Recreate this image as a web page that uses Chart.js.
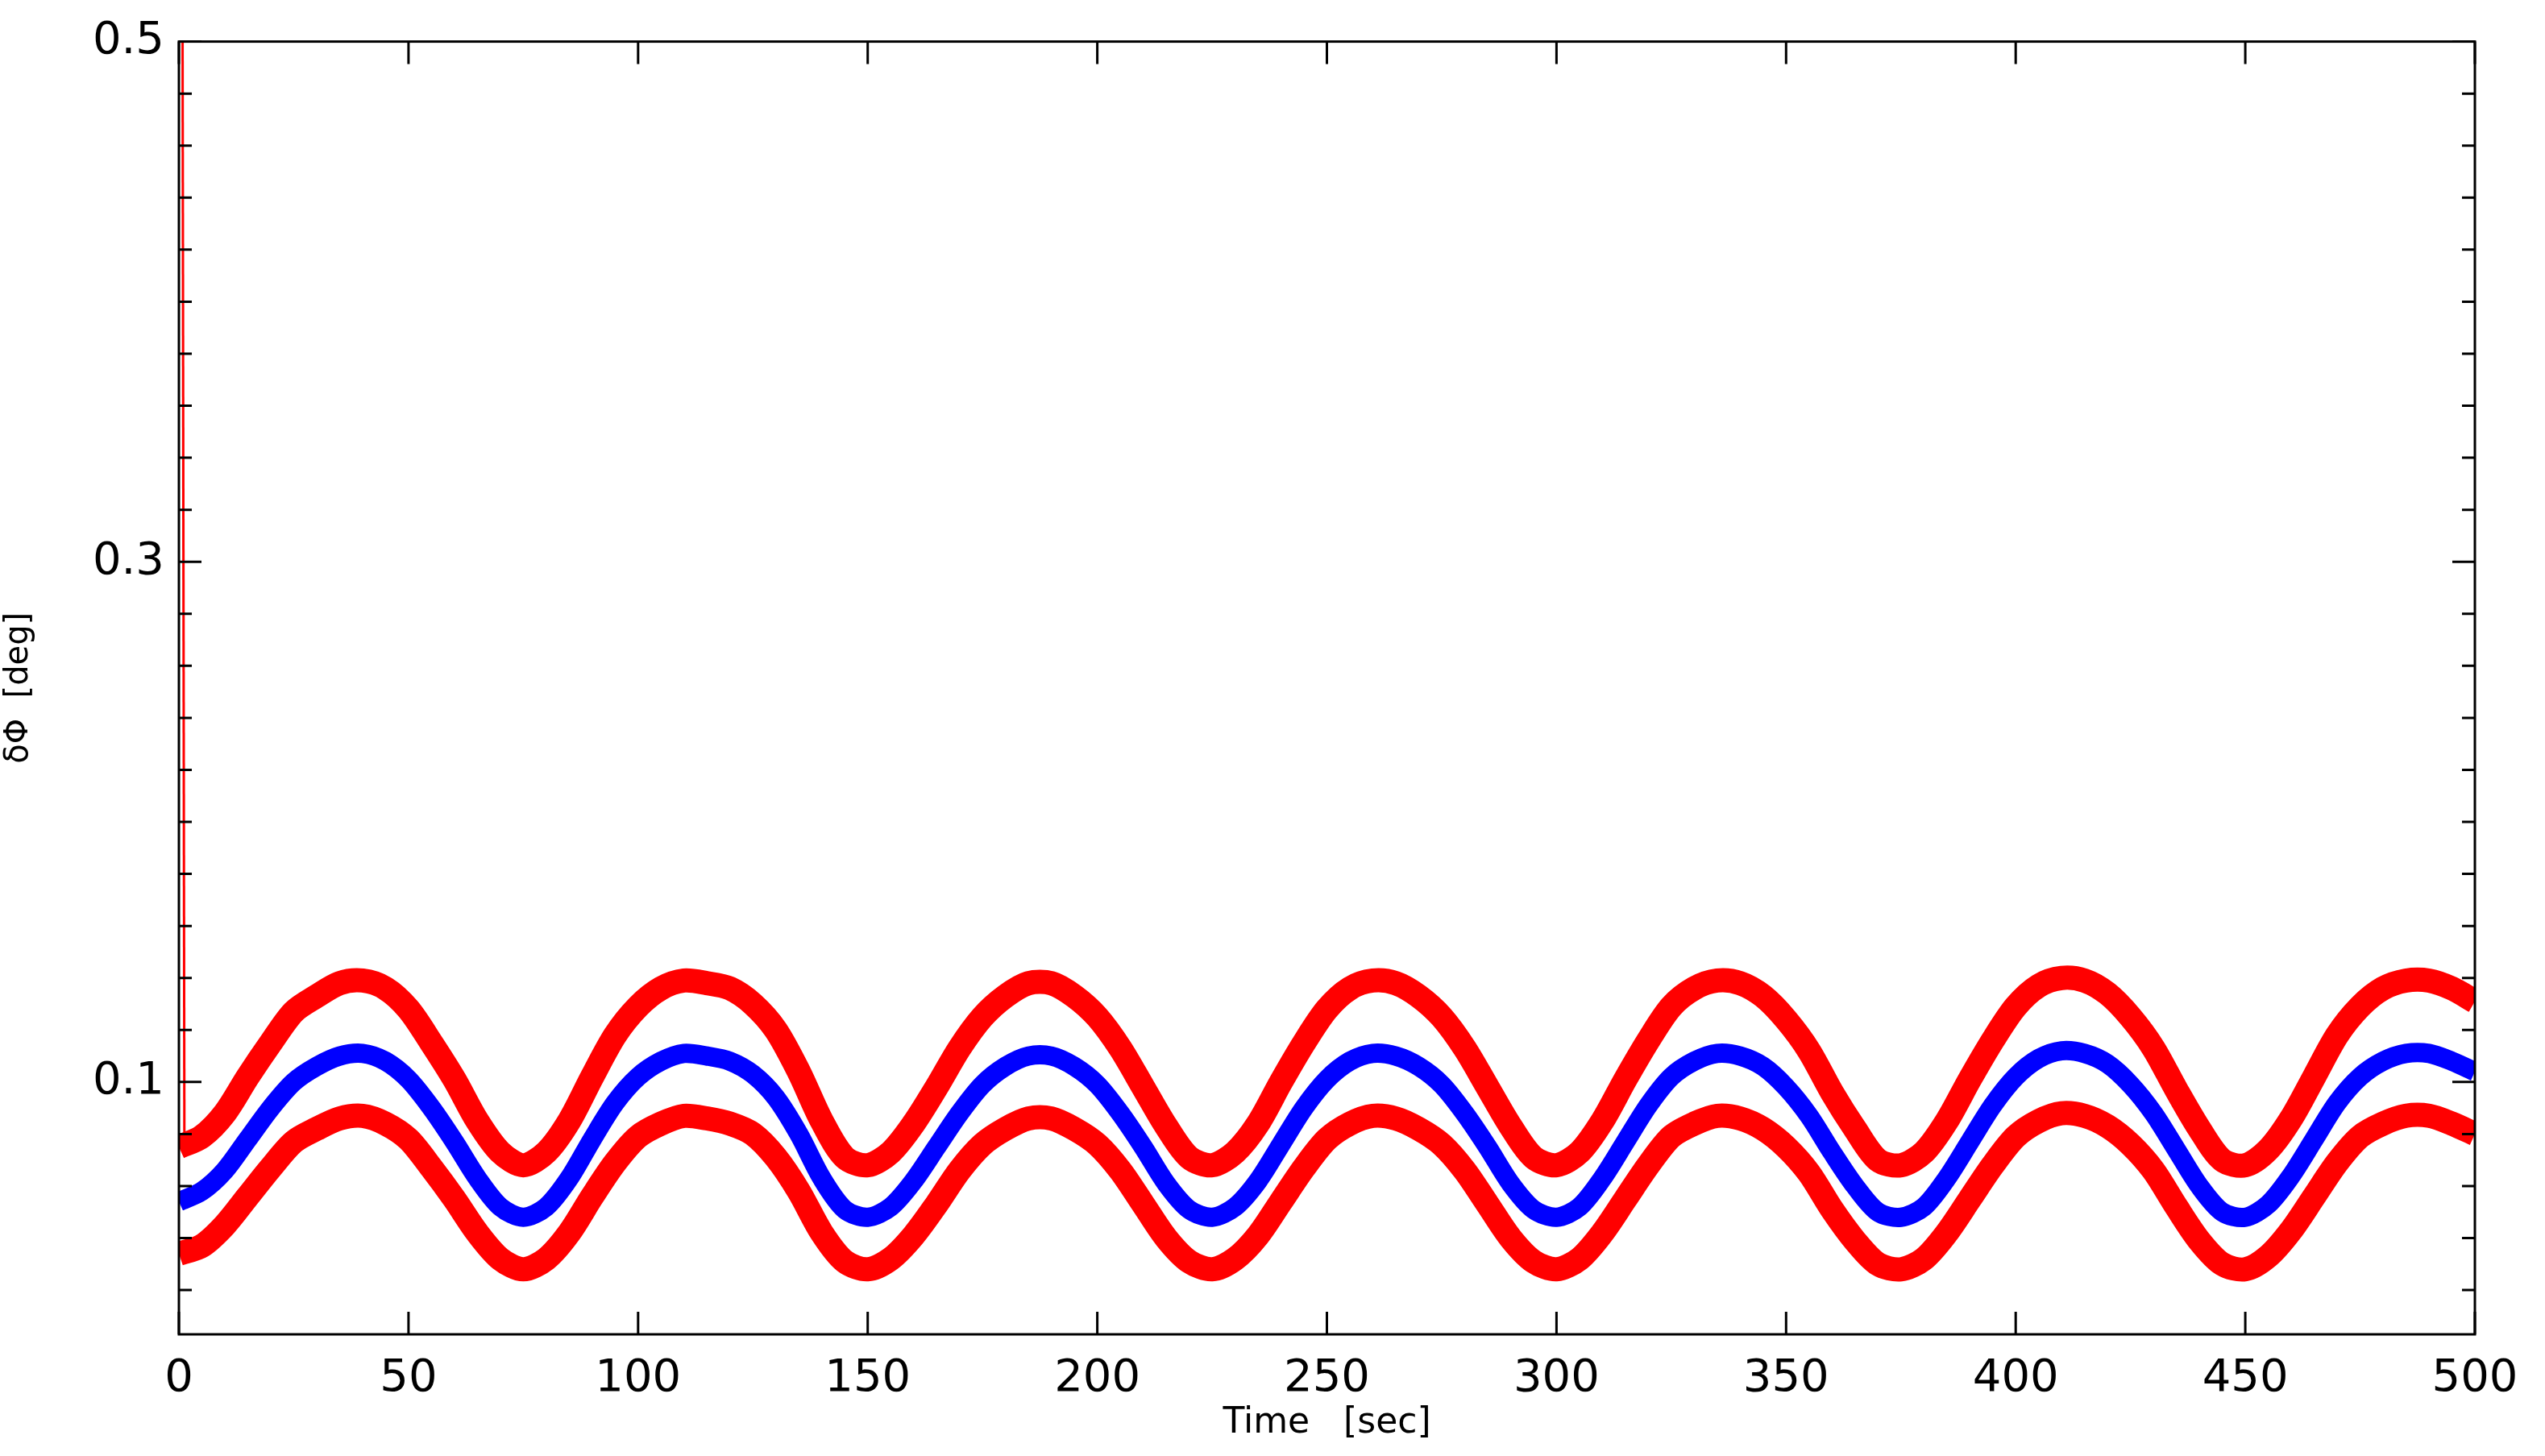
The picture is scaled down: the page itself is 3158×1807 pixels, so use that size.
<!DOCTYPE html>
<html>
<head>
<meta charset="utf-8">
<script src="https://cdn.jsdelivr.net/npm/chart.js@4/dist/chart.umd.min.js"></script>
<style>
  body { margin: 0; background: #fff; }
  canvas { display: block; }
</style>
</head>
<body>
<canvas id="myChart" width="3158" height="1807"></canvas>
<script>
const timeStep = 5;
const blueMid = [0.054,0.058,0.066,0.078,0.090,0.100,0.106,0.110,0.111,0.108,0.101,0.090,0.077,0.063,0.052,0.048,0.052,0.063,0.078,0.092,0.102,0.108,0.111,0.110,0.108,0.103,0.094,0.080,0.063,0.051,0.048,0.052,0.062,0.075,0.088,0.099,0.106,0.110,0.110,0.106,0.099,0.088,0.075,0.061,0.051,0.048,0.052,0.062,0.076,0.090,0.101,0.108,0.111,0.110,0.106,0.099,0.088,0.075,0.061,0.051,0.048,0.052,0.063,0.077,0.091,0.102,0.108,0.111,0.110,0.106,0.098,0.087,0.073,0.060,0.050,0.048,0.052,0.063,0.077,0.091,0.102,0.109,0.112,0.111,0.107,0.099,0.088,0.074,0.060,0.050,0.048,0.053,0.064,0.078,0.092,0.102,0.108,0.111,0.111,0.108,0.104];
const redUpper = [0.075,0.079,0.088,0.102,0.115,0.127,0.133,0.138,0.139,0.136,0.128,0.115,0.101,0.085,0.073,0.068,0.073,0.085,0.102,0.118,0.129,0.136,0.139,0.138,0.136,0.130,0.120,0.104,0.085,0.071,0.068,0.073,0.084,0.098,0.113,0.125,0.133,0.138,0.138,0.133,0.125,0.113,0.098,0.083,0.071,0.068,0.073,0.084,0.100,0.115,0.128,0.136,0.139,0.138,0.133,0.125,0.113,0.098,0.083,0.071,0.068,0.073,0.085,0.101,0.116,0.129,0.136,0.139,0.138,0.133,0.124,0.112,0.096,0.082,0.070,0.068,0.073,0.085,0.101,0.116,0.129,0.137,0.140,0.139,0.134,0.125,0.113,0.097,0.082,0.070,0.068,0.074,0.086,0.102,0.118,0.129,0.136,0.139,0.139,0.136,0.131];
const redLower = [0.034,0.037,0.045,0.056,0.067,0.077,0.082,0.086,0.087,0.084,0.078,0.067,0.055,0.042,0.032,0.028,0.032,0.042,0.056,0.069,0.079,0.084,0.087,0.086,0.084,0.080,0.071,0.058,0.042,0.031,0.028,0.032,0.041,0.053,0.066,0.076,0.082,0.086,0.086,0.082,0.076,0.066,0.053,0.040,0.031,0.028,0.032,0.041,0.054,0.067,0.078,0.084,0.087,0.086,0.082,0.076,0.066,0.053,0.040,0.031,0.028,0.032,0.042,0.055,0.068,0.079,0.084,0.087,0.086,0.082,0.075,0.065,0.051,0.039,0.030,0.028,0.032,0.042,0.055,0.068,0.079,0.085,0.088,0.087,0.083,0.076,0.066,0.052,0.039,0.030,0.028,0.033,0.043,0.056,0.069,0.079,0.084,0.087,0.087,0.084,0.080];
// start-up spike of the red trace
const spikeTime = [0.8, 1.2];
const spikeValue = [0.5, 0.075];

const yLabels = [0.1, 0.3, 0.5];
const xTicks = [0, 50, 100, 150, 200, 250, 300, 350, 400, 450, 500];

function toPoints(arr) {
    return arr.map((v, i) => ({ x: i * timeStep, y: v }));
}

// IDL-style inward ticks on all four sides
const inwardTicks = {
    id: 'inwardTicks',
    afterDraw(chart) {
        const c = chart.ctx;
        const a = chart.chartArea;
        const xs = chart.scales.x;
        const ys = chart.scales.y;
        c.save();
        c.strokeStyle = '#000';
        c.lineWidth = 3;
        c.strokeRect(a.left, a.top, a.right - a.left, a.bottom - a.top);
        c.beginPath();
        xTicks.forEach(t => {
            let px = xs.getPixelForValue(t);
            c.moveTo(px, a.bottom); c.lineTo(px, a.bottom - 28);
            c.moveTo(px, a.top); c.lineTo(px, a.top + 28);
        });
        for (let k = 1; k <= 25; k++) {
            let v = k * 0.02;
            let len = yLabels.some(l => Math.abs(l - v) < 1e-6) ? 28 : 16;
            let py = ys.getPixelForValue(v);
            c.moveTo(a.left, py); c.lineTo(a.left + len, py);
            c.moveTo(a.right, py); c.lineTo(a.right - len, py);
        }
        c.stroke();
        c.restore();
    }
};

const ctx = document.getElementById('myChart').getContext('2d');
new Chart(ctx, {
    type: 'line',
    data: {
        datasets: [{
            data: toPoints(redUpper),
            borderColor: 'rgb(255, 0, 0)',
            borderWidth: 30,
            pointRadius: 0,
            tension: 0.3
        }, {
            data: toPoints(redLower),
            borderColor: 'rgb(255, 0, 0)',
            borderWidth: 30,
            pointRadius: 0,
            tension: 0.3
        }, {
            data: toPoints(blueMid),
            borderColor: 'rgb(0, 0, 255)',
            borderWidth: 24,
            pointRadius: 0,
            tension: 0.3
        }, {
            data: spikeTime.map((t, i) => ({ x: t, y: spikeValue[i] })),
            borderColor: 'rgb(255, 0, 0)',
            borderWidth: 3,
            pointRadius: 0
        }]
    },
    plugins: [inwardTicks],
    options: {
        responsive: false,
        animation: false,
        devicePixelRatio: 1,
        layout: { padding: { top: 40, right: 87, left: 0, bottom: 0 } },
        plugins: { legend: { display: false }, tooltip: { enabled: false } },
        scales: {
            x: {
                type: 'linear',
                min: 0,
                max: 500,
                afterBuildTicks: s => { s.ticks = xTicks.map(v => ({ value: v })); },
                grid: { display: false, drawTicks: false },
                border: { display: false },
                ticks: {
                    color: '#000',
                    padding: 22,
                    maxRotation: 0,
                    font: { family: 'DejaVu Sans', size: 56 }
                },
                title: {
                    display: true,
                    text: 'Time   [sec]',
                    color: '#000',
                    padding: { top: 0, bottom: 14 },
                    font: { family: 'DejaVu Sans', size: 44 }
                },
                afterFit: s => { s.height = 151; }
            },
            y: {
                min: 0.003,
                max: 0.5,
                afterBuildTicks: s => { s.ticks = yLabels.map(v => ({ value: v })); },
                grid: { display: false, drawTicks: false },
                border: { display: false },
                ticks: {
                    color: '#000',
                    padding: 18,
                    callback: v => v.toFixed(1),
                    font: { family: 'DejaVu Sans', size: 56 }
                },
                title: {
                    display: true,
                    text: 'δΦ  [deg]',
                    color: '#000',
                    padding: { top: 0, bottom: 36 },
                    font: { family: 'DejaVu Sans', size: 40 }
                },
                afterFit: s => { s.width = 222; }
            }
        }
    }
});
</script>
</body>
</html>
